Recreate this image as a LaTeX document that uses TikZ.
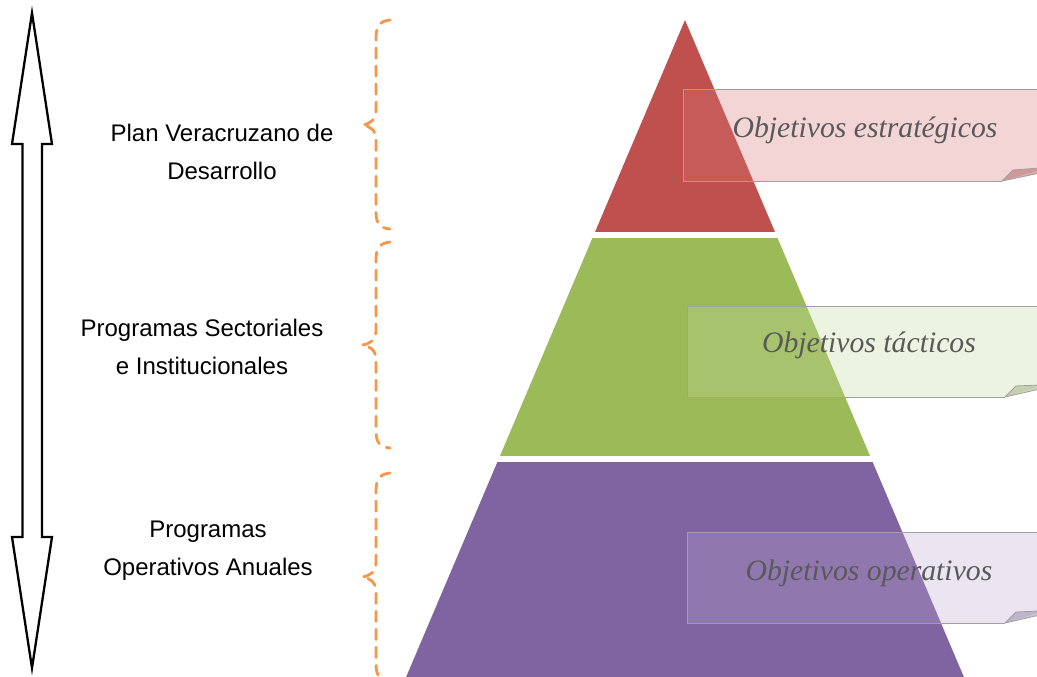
\documentclass[tikz,border=0pt]{standalone}
\usepackage{fontspec}
\setmainfont{Liberation Sans}
\newfontfamily\objfont{Liberation Serif}
\begin{document}
\begin{tikzpicture}[x=1pt,y=-1pt,
  lbl/.style={font=\fontsize{24}{38}\selectfont, align=center, text=black},
  objtxt/.style={font=\objfont\itshape\fontsize{29.7}{32}\selectfont, text=objgray},
  callout/.style={draw=calloutline, line width=1pt},
  bracestyle/.style={draw=braceorange, line width=2.8pt, dash pattern=on 10pt off 8pt, line cap=round},
]
\definecolor{pred}{HTML}{C0504D}
\definecolor{pgreen}{HTML}{9BBB59}
\definecolor{ppurple}{HTML}{8064A2}
\definecolor{objgray}{HTML}{595959}
\definecolor{calloutline}{HTML}{A0A0A0}
\definecolor{braceorange}{HTML}{F79646}
\definecolor{cred}{HTML}{D97575}
\definecolor{cgreen}{HTML}{C4D89C}
\definecolor{cpurple}{HTML}{B8A8CE}
\useasboundingbox (0,0) rectangle (1037,677);
\clip (0,0) rectangle (1037,677);

% double arrow
\draw[line width=2.3pt, line join=miter, fill=white] (32,13) -- (52,144) -- (42,144) -- (42,537) -- (52,537) -- (32,668) -- (12,537) -- (22.5,537) -- (22.5,144) -- (12,144) -- cycle;

% pyramid
\begin{scope}
  \clip (685,20) -- (969.4,690) -- (400.6,690) -- cycle;
  \fill[pred] (380,0) rectangle (1000,232);
  \fill[pgreen] (380,238) rectangle (1000,456);
  \fill[ppurple] (380,462) rectangle (1000,700);
\end{scope}

% braces
\draw[bracestyle] (390,20) .. controls (380,21) and (376,26) .. (376,38) -- (376,110) .. controls (376,120) and (370,124) .. (362,125) .. controls (370,126) and (376,130) .. (376,140) -- (376,212) .. controls (376,224) and (380,228) .. (390,229);
\draw[bracestyle] (390,242) .. controls (380,243) and (376,248) .. (376,260) -- (376,330) .. controls (376,340) and (370,344) .. (362,345) .. controls (370,346) and (376,350) .. (376,360) -- (376,431) .. controls (376,443) and (380,447) .. (390,448);
\draw[bracestyle] (390,473) .. controls (380,474) and (376,479) .. (376,491) -- (376,562) .. controls (376,572) and (370,576) .. (362,577) .. controls (370,578) and (376,582) .. (376,592) -- (376,664) .. controls (376,676) and (380,680) .. (390,681);

% left labels
\node[lbl] (l1) at (222,152) {Plan Veracruzano de\\Desarrollo};
\node[lbl] (l2) at (202,347) {Programas Sectoriales\\e Institucionales};
\node[lbl] (l3) at (208,551) {Programas\\Operativos Anuales};

% callouts
\fill[cred, opacity=0.3] (683,90) -- (1040,90) -- (1040,170) -- (1002,181) -- (683,181) -- cycle;
\draw[callout] (1040,90) -- (683,90) -- (683,181) -- (1002,181);
\filldraw[fill=cred!80!black, fill opacity=0.5, draw=calloutline, line width=0.8pt] (1002,181) -- (1013,170) -- (1040,168) -- (1040,173) -- cycle;
\node[objtxt] (o1) at (865,130) {Objetivos estratégicos};

\fill[cgreen, opacity=0.3] (687,306) -- (1040,306) -- (1040,386) -- (1005,397) -- (687,397) -- cycle;
\draw[callout] (1040,306) -- (687,306) -- (687,397) -- (1005,397);
\filldraw[fill=cgreen!80!black, fill opacity=0.5, draw=calloutline, line width=0.8pt] (1005,397) -- (1016,386) -- (1040,385) -- (1040,389) -- cycle;
\node[objtxt] (o2) at (869,345) {Objetivos tácticos};

\fill[cpurple, opacity=0.3] (687,532) -- (1040,532) -- (1040,612) -- (1005,623) -- (687,623) -- cycle;
\draw[callout] (1040,532) -- (687,532) -- (687,623) -- (1005,623);
\filldraw[fill=cpurple!80!black, fill opacity=0.5, draw=calloutline, line width=0.8pt] (1005,623) -- (1016,612) -- (1040,611) -- (1040,615) -- cycle;
\node[objtxt] (o3) at (869,573) {Objetivos operativos};
\end{tikzpicture}
\end{document}
